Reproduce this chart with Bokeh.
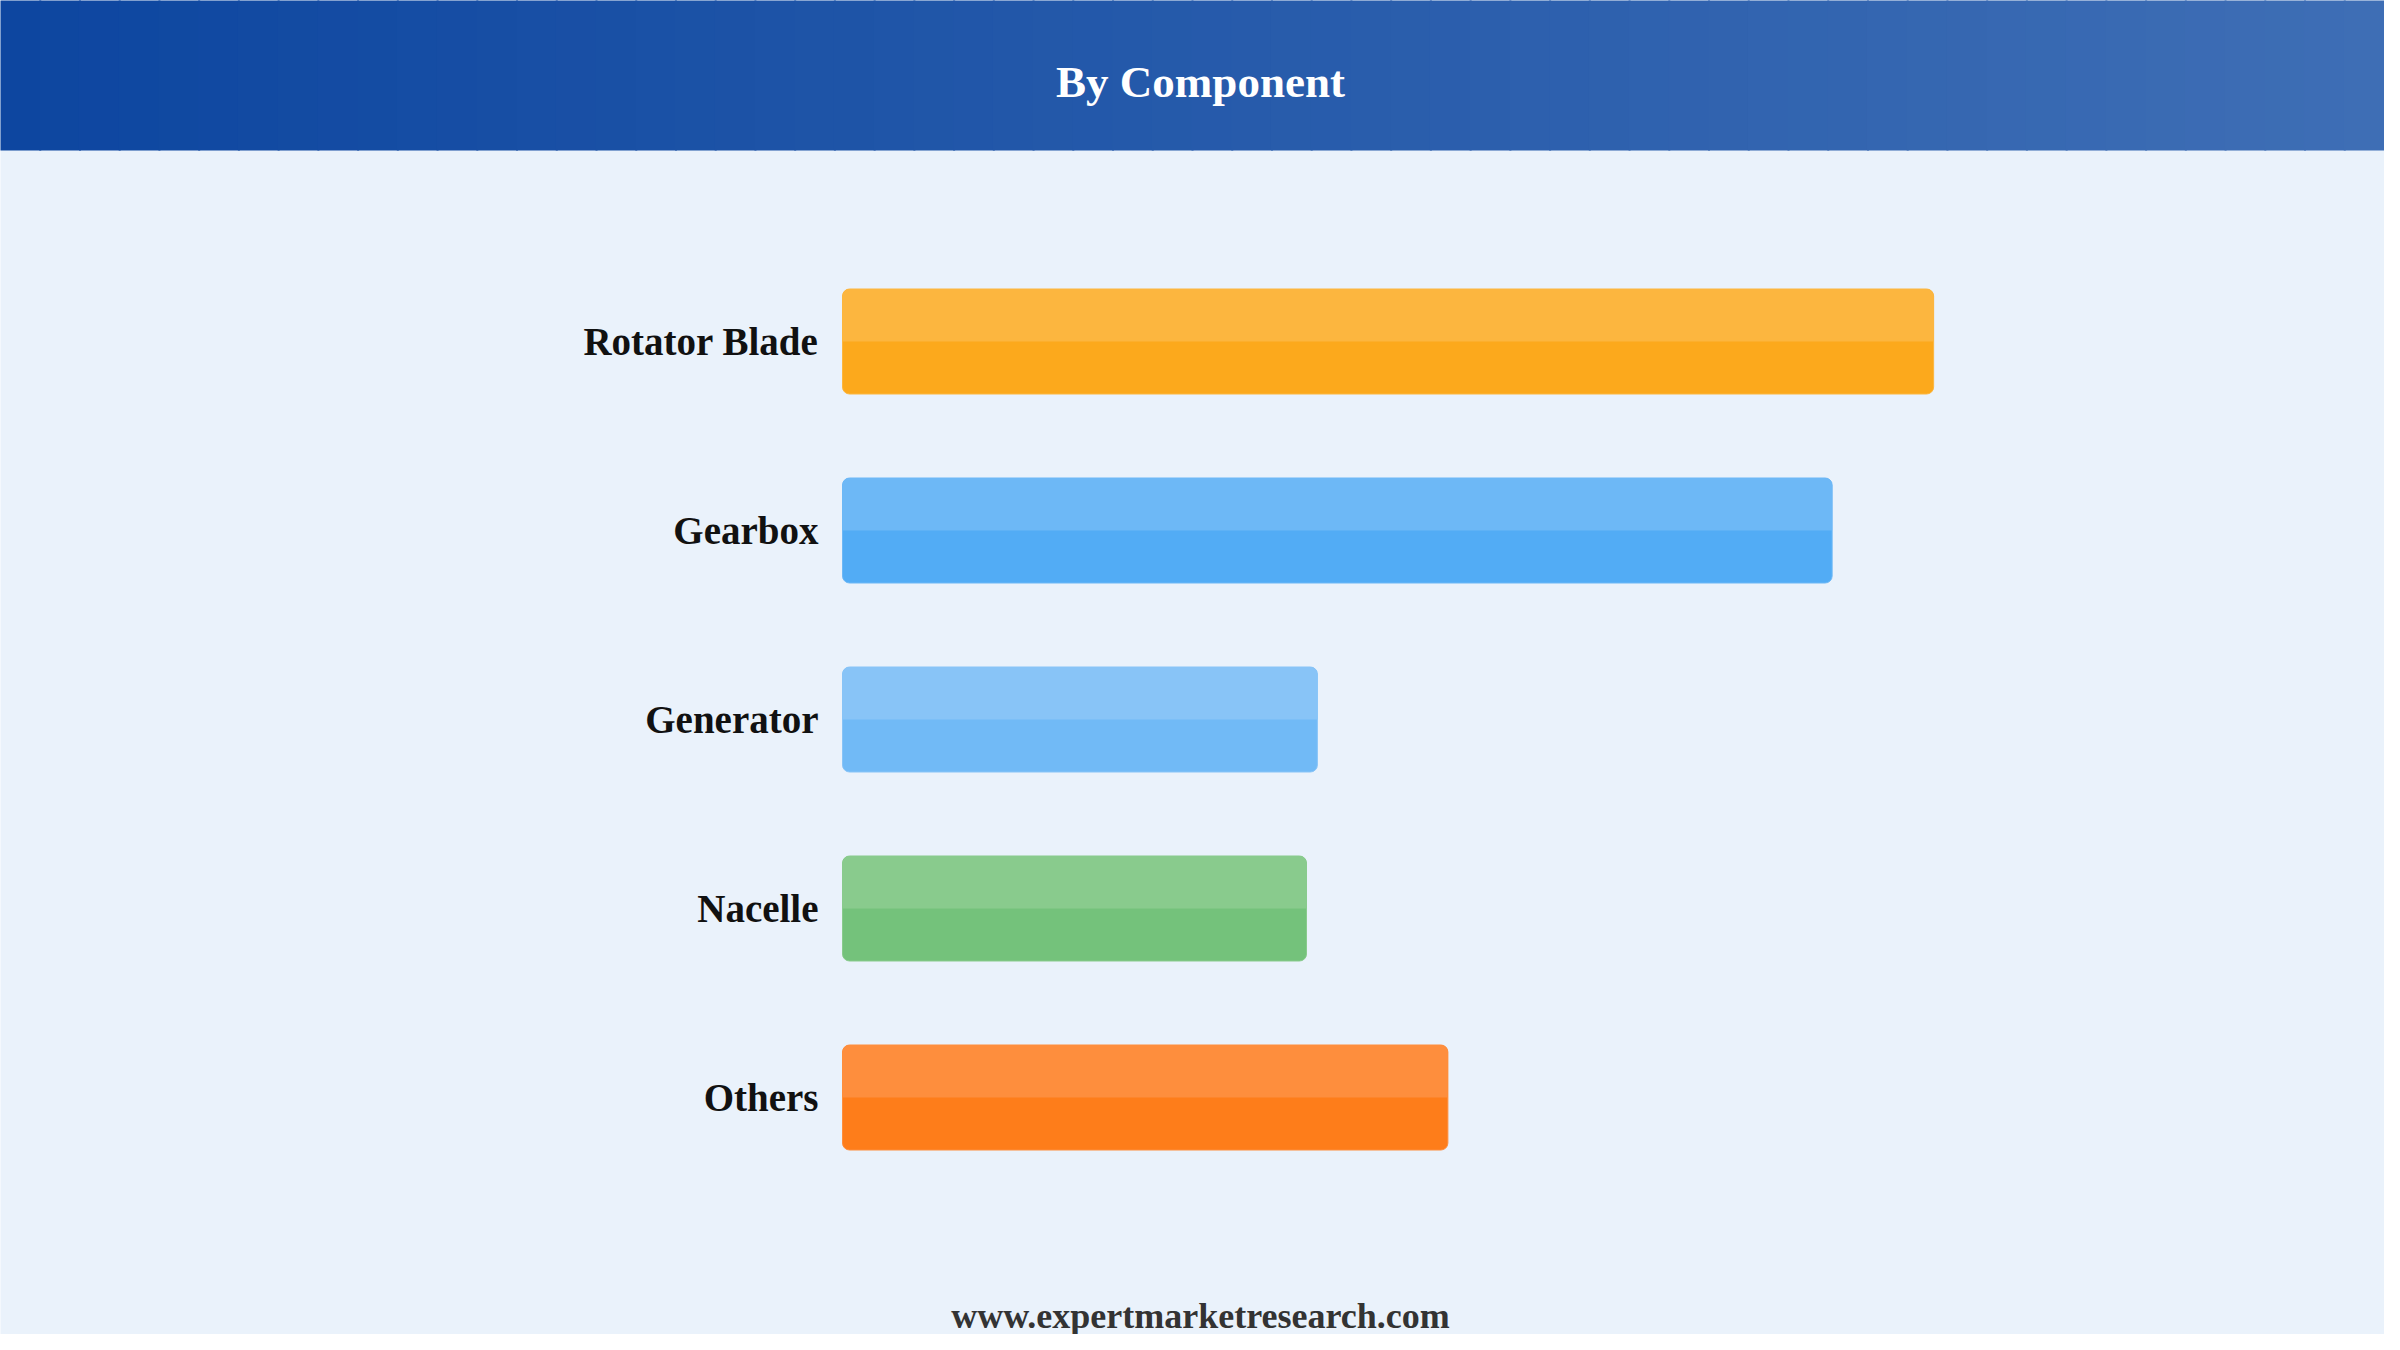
from bokeh.plotting import figure
from bokeh.models import Range1d, ColumnDataSource
from bokeh.core.properties import value
from bokeh.embed import file_html
from bokeh.resources import INLINE

# ---- data ----
title_text = "By Component"
footer_text = "www.expertmarketresearch.com"
categories = ["Rotator Blade", "Gearbox", "Generator", "Nacelle", "Others"]
shares = [30.1, 27.3, 13.1, 12.8, 16.7]
base_colors = ["#FCA91C", "#52ACF5", "#71BAF6", "#74C27B", "#FE7D1A"]
light_colors = ["#FCB63F", "#6DB8F6", "#88C4F7", "#89CB8D", "#FE8E3D"]

# ---- layout constants (pixels) ----
W, H = 2384, 1334
PXU = 36.25        # pixels per share unit
X0 = 842           # pixel of zero value
ROW = 189          # pixels per category row
Y_LAST = H - 1097  # pixel (from bottom) of last row center
BAR_H = 105 / ROW
HEADER_H = 150
BG = "#EAF2FB"
FONT = "Liberation Serif"

x_start = -X0 / PXU
x_end = x_start + W / PXU
y_start = -Y_LAST / ROW
y_end = y_start + H / ROW


def sx(px):
    return x_start + px / PXU


def sy(px_from_top):
    return y_end - px_from_top / ROW


n = len(categories)
pos = [n - 1 - i for i in range(n)]

src = ColumnDataSource(dict(cat=categories, val=shares, y=pos,
                            ytop=[p + BAR_H / 4 for p in pos],
                            base=base_colors, light=light_colors))

p = figure(width=W, height=H, output_backend="svg", toolbar_location=None,
           x_range=Range1d(x_start, x_end), y_range=Range1d(y_start, y_end),
           min_border=0, outline_line_color=None,
           background_fill_color=BG, border_fill_color=BG)
p.axis.visible = False
p.grid.visible = False

# header gradient
c0 = (13, 70, 160)
c1 = (62, 110, 181)
NS = 60
lefts, rights, cols = [], [], []
for i in range(NS):
    t = i / (NS - 1)
    r = round(c0[0] + (c1[0] - c0[0]) * t)
    g = round(c0[1] + (c1[1] - c0[1]) * t)
    b = round(c0[2] + (c1[2] - c0[2]) * t)
    lefts.append(sx(W * i / NS - 1))
    rights.append(sx(W * (i + 1) / NS + 1))
    cols.append("#%02x%02x%02x" % (r, g, b))
p.quad(left=lefts, right=rights, top=sy(-4), bottom=sy(HEADER_H),
       fill_color=cols, line_color=None)

p.text(x=[sx(1200)], y=[sy(81)], text=[title_text], text_align="center",
       text_baseline="middle", text_color="white", text_font=value(FONT),
       text_font_style="bold", text_font_size="45px")

# bars
p.hbar(y="y", right="val", left=0, height=BAR_H, fill_color="base",
       line_color="light", line_width=1, border_radius=7, source=src)
p.hbar(y="ytop", right="val", left=0, height=BAR_H / 2, fill_color="light",
       line_color=None, border_radius=(7, 7, 0, 0), source=src)

p.text(x=0, y="y", text="cat", x_offset=-24, text_align="right",
       text_baseline="middle", text_color="#111111", text_font=value(FONT),
       text_font_style="bold", text_font_size="39px", source=src)

p.text(x=[sx(1200)], y=[sy(1315)], text=[footer_text], text_align="center",
       text_baseline="middle", text_color="#333333", text_font=value(FONT),
       text_font_style="bold", text_font_size="36px")

open("out.html", "w").write(file_html(p, INLINE))
